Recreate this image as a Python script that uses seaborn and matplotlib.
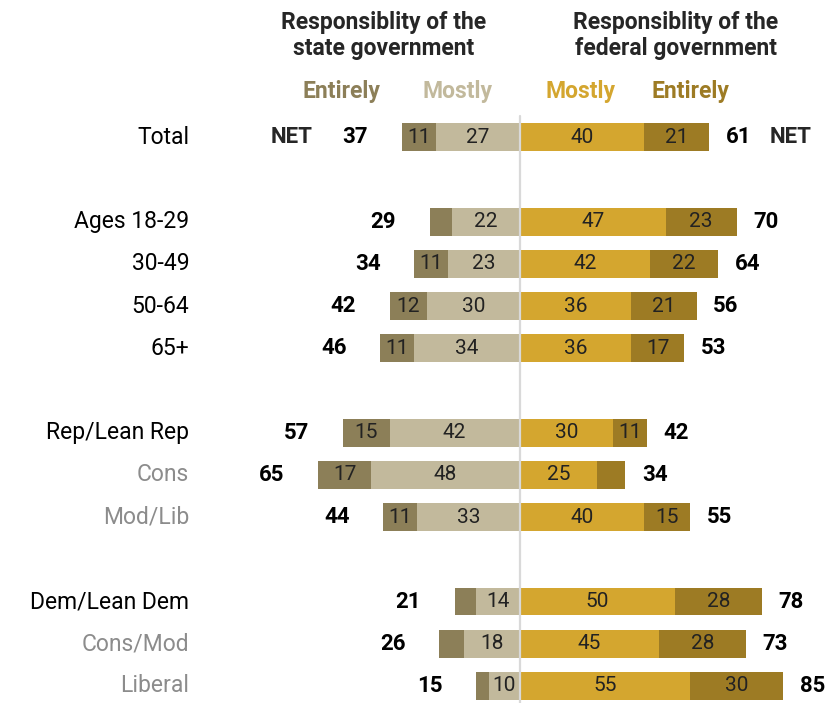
import matplotlib
matplotlib.use("Agg")
import matplotlib.pyplot as plt
import seaborn as sns

# survey numbers
groups = ["Total", "Ages 18-29", "30-49", "50-64", "65+",
          "Rep/Lean Rep", "Cons", "Mod/Lib",
          "Dem/Lean Dem", "Cons/Mod", "Liberal"]
state_entirely = [11, 7, 11, 12, 11, 15, 17, 11, 7, 8, 4]
state_mostly = [27, 22, 23, 30, 34, 42, 48, 33, 14, 18, 10]
state_net = [37, 29, 34, 42, 46, 57, 65, 44, 21, 26, 15]
fed_mostly = [40, 47, 42, 36, 36, 30, 25, 40, 50, 45, 55]
fed_entirely = [21, 23, 22, 21, 17, 11, 9, 15, 28, 28, 30]
fed_net = [61, 70, 64, 56, 53, 42, 34, 55, 78, 73, 85]
subgroups = ["Cons", "Mod/Lib", "Cons/Mod", "Liberal"]

# layout
rows = [0, 2, 3, 4, 5, 7, 8, 9, 11, 12, 13]
c_st_ent = "#8c7f58"
c_st_most = "#c2b99c"
c_fed_most = "#d4a62f"
c_fed_ent = "#9d7b24"

sns.set_theme(style="white")
plt.rcParams["font.family"] = ["Roboto", "DejaVu Sans"]

fig = plt.figure(figsize=(8.37, 7.03), dpi=100)
ax = fig.add_axes([0, 0, 1, 1])

st_total = [-(a + b) for a, b in zip(state_entirely, state_mostly)]
st_most_neg = [-m for m in state_mostly]
fed_total = [a + b for a, b in zip(fed_mostly, fed_entirely)]

# stacked bars: draw the full length first, then the inner segment on top
for vals, col in [(st_total, c_st_ent), (st_most_neg, c_st_most),
                  (fed_total, c_fed_ent), (fed_mostly, c_fed_most)]:
    sns.barplot(x=vals, y=rows, orient="h", native_scale=True, color=col,
                saturation=1, width=0.66, errorbar=None, linewidth=0, ax=ax)

ax.axvline(0, ymin=0, ymax=1 - 116 / 703, color="#d9d9d9", lw=1.6, zorder=5)

num_size = 15
net_size = 16
for i, r in enumerate(rows):
    e, m = state_entirely[i], state_mostly[i]
    if e >= 10:
        ax.text(-(m + e / 2), r, str(e), ha="center", va="center", fontsize=num_size, color="#222222")
    if m >= 10:
        ax.text(-m / 2, r, str(m), ha="center", va="center", fontsize=num_size, color="#222222")
    m2, e2 = fed_mostly[i], fed_entirely[i]
    if m2 >= 10:
        ax.text(m2 / 2, r, str(m2), ha="center", va="center", fontsize=num_size, color="#222222")
    if e2 >= 10:
        ax.text(m2 + e2 / 2, r, str(e2), ha="center", va="center", fontsize=num_size, color="#222222")
    # nets
    ax.text(-(m + e) - 15, r, str(state_net[i]), ha="center", va="center",
            fontsize=net_size, fontweight="bold", color="black")
    ax.text(m2 + e2 + 9.5, r, str(fed_net[i]), ha="center", va="center",
            fontsize=net_size, fontweight="bold", color="black")
    # group label
    col = "#8c8c8c" if groups[i] in subgroups else "black"
    ax.text(-106.6, r, groups[i], ha="right", va="center", fontsize=16.5, color=col)

ax.text(-73.5, 0, "NET", ha="center", va="center", fontsize=net_size, fontweight="bold")
ax.text(87.2, 0, "NET", ha="center", va="center", fontsize=net_size, fontweight="bold")

# headers
ax.text(-43.9, -2.41, "Responsiblity of the\nstate government", ha="center", va="center",
        fontsize=16.5, fontweight="bold", linespacing=1.2)
ax.text(50.4, -2.41, "Responsiblity of the\nfederal government", ha="center", va="center",
        fontsize=16.5, fontweight="bold", linespacing=1.2)
ax.text(-57.5, -1.09, "Entirely", ha="center", va="center", fontsize=16.5, fontweight="bold", color=c_st_ent)
ax.text(-20.1, -1.09, "Mostly", ha="center", va="center", fontsize=16.5, fontweight="bold", color=c_st_most)
ax.text(19.5, -1.09, "Mostly", ha="center", va="center", fontsize=16.5, fontweight="bold", color=c_fed_most)
ax.text(55, -1.09, "Entirely", ha="center", va="center", fontsize=16.5, fontweight="bold", color=c_fed_ent)

ax.set_xlim(-167.6, 102.3)
ax.set_ylim(13.405, -3.254)
ax.axis("off")

fig.savefig("out.png", dpi=100)
